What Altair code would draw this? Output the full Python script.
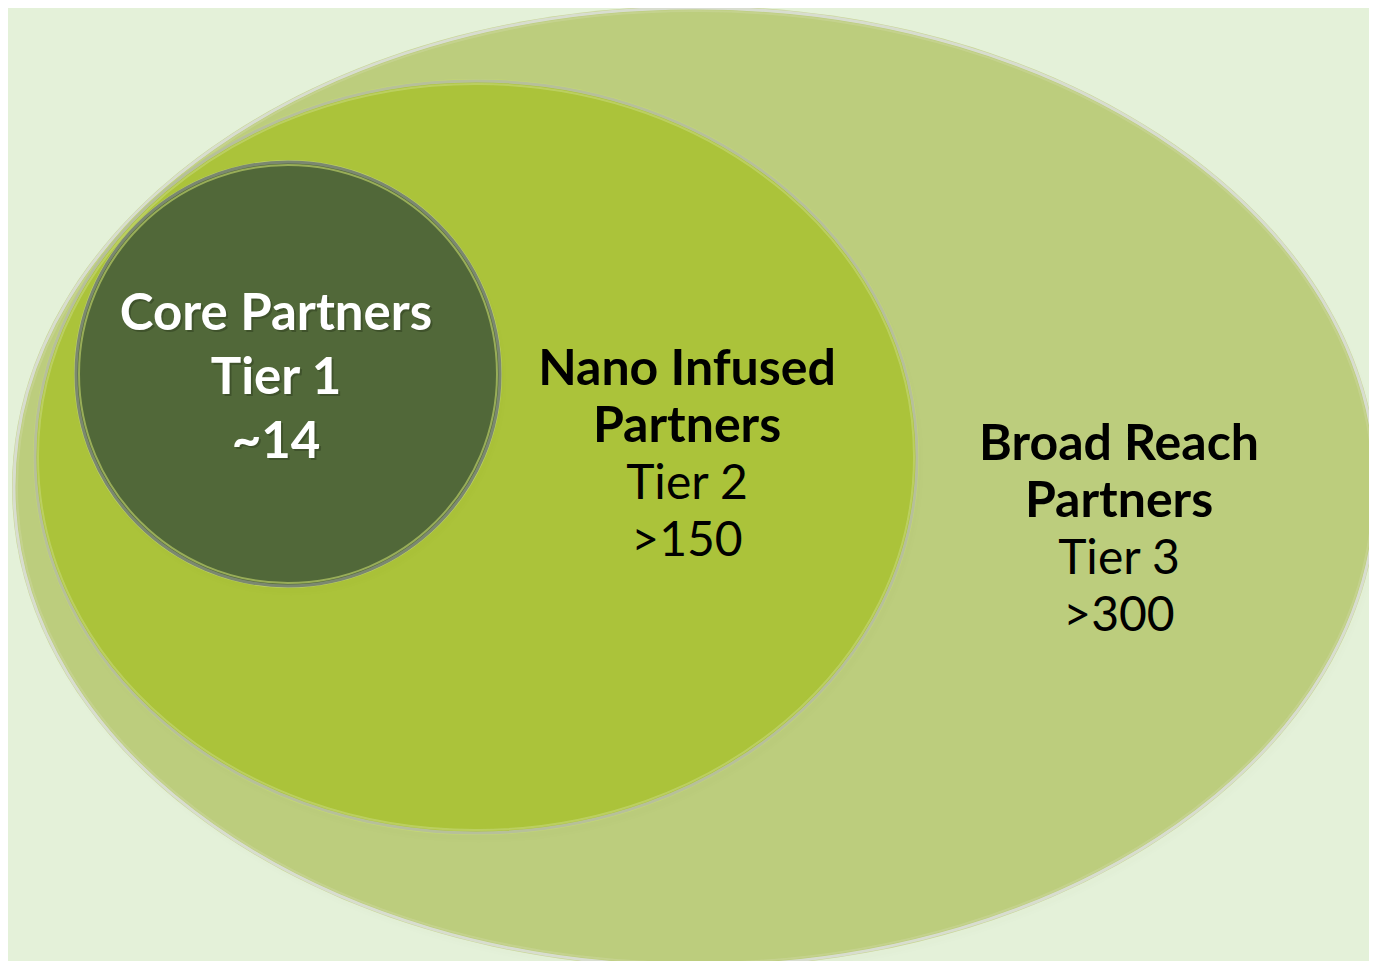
import altair as alt
import pandas as pd

# ---------------- data ----------------
tier_names = ["Core Partners", "Nano Infused Partners", "Broad Reach Partners"]
name_lines = [["Core Partners"], ["Nano Infused", "Partners"], ["Broad Reach", "Partners"]]
tier_labels = ["Tier 1", "Tier 2", "Tier 3"]
tier_counts = ["~14", ">150", ">300"]

# ---------------- layout (canvas pixels) ----------------
W, H, M = 1377, 969, 8
# ellipse geometry per tier: centre x, centre y, radius x, radius y
ell_cx = [288, 476, 695]
ell_cy = [374, 457, 487]
ell_rx = [212, 441, 681]
ell_ry = [212, 376, 479]
ell_fill = ["#516839", "#abc33a", "#bccd7d"]
ell_edge = ["#7b8870", "#b7c09a", "#d8ddcf"]
ell_rim = ["#c0d46a", "#c4d775", "#c9d696"]

label_x = [276, 687, 1119]
label_first_baseline = [330, 385, 460]
label_step = [64, 57, 57]
bold_size = [51, 50, 50]
reg_size = [51, 48, 48]
label_color = ["#ffffff", "#000000", "#000000"]
bg = "#e4f1d9"

xs = alt.Scale(domain=[M, W - M], nice=False, zero=False)
ys = alt.Scale(domain=[M, H - M], nice=False, zero=False, reverse=True)
X = lambda f: alt.X(f, type="quantitative", scale=xs, axis=None)
Y = lambda f: alt.Y(f, type="quantitative", scale=ys, axis=None)


def ellipse_layer(cx, cy, rx, ry, fill=None, stroke=None, sw=0, opacity=1.0):
    ratio = ry / rx
    path = f"M -1 0 A 1 {ratio:.5f} 0 1 1 1 0 A 1 {ratio:.5f} 0 1 1 -1 0 Z"
    props = dict(shape=path, size=(2 * rx) ** 2, opacity=opacity, clip=True)
    if fill is not None:
        props.update(filled=True, fill=fill, fillOpacity=opacity)
    else:
        props.update(filled=False, fill="transparent")
    if stroke is not None:
        props.update(stroke=stroke, strokeWidth=sw, strokeOpacity=opacity)
    else:
        props.update(strokeWidth=0)
    df = pd.DataFrame({"x": [cx], "y": [cy]})
    return alt.Chart(df).mark_point(**props).encode(x=X("x"), y=Y("y"))


layers = []
# draw from the outermost tier inwards
for i in [2, 1, 0]:
    cx, cy, rx, ry = ell_cx[i], ell_cy[i], ell_rx[i], ell_ry[i]
    # soft drop shadow
    for grow, op in [(7, 0.04), (4, 0.06), (1, 0.09)]:
        layers.append(ellipse_layer(cx + 3, cy + 6, rx + grow, ry + grow, fill="#55603a", opacity=op))
    # outer light rim
    layers.append(ellipse_layer(cx, cy, rx + 2, ry + 2, fill=ell_rim[i]))
    layers.append(ellipse_layer(cx, cy, rx, ry, fill=ell_fill[i], stroke=ell_edge[i], sw=3))
    layers.append(ellipse_layer(cx, cy, rx - 3, ry - 3, stroke=ell_rim[i], sw=2, opacity=0.8))

# ---------------- labels ----------------
rows = []
for i in range(3):
    lines = [(t, "bold", bold_size[i]) for t in name_lines[i]]
    w2 = "bold" if i == 0 else "normal"
    lines += [(tier_labels[i], w2, reg_size[i]), (tier_counts[i], w2, reg_size[i])]
    for j, (t, w, s) in enumerate(lines):
        rows.append(dict(text=t, x=label_x[i], y=label_first_baseline[i] + j * label_step[i],
                         weight=w, color=label_color[i], size=s, tier=i))
tdf = pd.DataFrame(rows)


def text_layer(weight, tiers, shadow=False):
    d = tdf[(tdf.weight == weight) & (tdf.tier.isin(tiers))]
    m = alt.Chart(d).mark_text(font="Lato", fontWeight=weight, baseline="alphabetic", align="center",
                               dx=2 if shadow else 0, dy=2 if shadow else 0,
                               opacity=0.35 if shadow else 1)
    enc = dict(x=X("x"), y=Y("y"), text="text:N",
               size=alt.Size("size:Q", scale=None, legend=None))
    if shadow:
        enc["color"] = alt.value("#1f2a14")
    else:
        enc["color"] = alt.Color("color:N", scale=None, legend=None)
    return m.encode(**enc)


layers.append(text_layer("bold", [0], shadow=True))
layers.append(text_layer("bold", [0, 1, 2]))
layers.append(text_layer("normal", [1, 2]))

chart = alt.layer(*layers).properties(
    width=W - 2 * M, height=H - 2 * M, padding=0, autosize=alt.AutoSizeParams(type="none"),
    background=bg,
).configure_view(stroke=None)

chart.save("out.html", embed_options={"renderer": "svg", "actions": False})
